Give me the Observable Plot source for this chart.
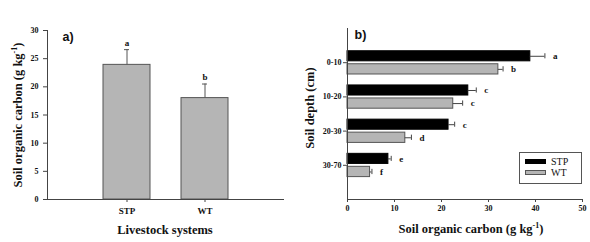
<!DOCTYPE html>
<html><head><meta charset="utf-8">
<script src="https://cdn.jsdelivr.net/npm/d3@7"></script>
<script src="https://cdn.jsdelivr.net/npm/@observablehq/plot@0.6"></script>
<style>
body{margin:0;background:#fff;}
#wrap{position:relative;width:590px;height:242px;overflow:hidden;font-family:"Liberation Serif","Times New Roman",serif;color:#111;}
#wrap svg{position:absolute;top:0;}
.title{position:absolute;font-weight:bold;font-size:12.5px;white-space:nowrap;line-height:1;transform:translate(-50%,-50%);}
.title.rot{transform:translate(-50%,-50%) rotate(-90deg);}
.title sup{font-size:8px;vertical-align:5px;line-height:0;}
#legend{position:absolute;left:519px;top:152px;width:61px;height:30px;border:1px solid #555;background:#fff;}
.lg{position:absolute;left:5px;width:21px;height:5px;box-sizing:border-box;}
.lgt{position:absolute;left:31px;font-size:10px;line-height:1;}
</style></head><body><div id="wrap"></div>
<script>
// Panel a) data
const systems = ["STP", "WT"];
const systemSoc = [23.9, 18.0];
const systemSocUpper = [26.6, 20.5];
const systemLetters = ["a", "b"];
const yTicksA = [0, 5, 10, 15, 20, 25, 30];

// Panel b) data
const depths = ["0-10", "10-20", "20-30", "30-70"];
const seriesNames = ["STP", "WT"];
const stpSoc = [38.9, 25.7, 21.5, 8.7];
const stpUpper = [42.0, 27.4, 22.8, 9.3];
const stpLetters = ["a", "c", "c", "e"];
const wtSoc = [32.1, 22.5, 12.3, 4.8];
const wtUpper = [33.1, 24.5, 13.6, 5.2];
const wtLetters = ["b", "c", "d", "f"];
const xTicksB = [0, 10, 20, 30, 40, 50];

const seriesFill = {STP: "#000", WT: "#b5b5b5"};
const seriesStroke = {STP: "#000", WT: "#555"};
const barBand = {STP: [-0.335, -0.04], WT: [0.045, 0.345]};
const axisColor = "#444";

const wrap = document.getElementById("wrap");

const dataA = systems.map((s, i) => ({system: s, soc: systemSoc[i], hi: systemSocUpper[i], letter: systemLetters[i]}));

const plotA = Plot.plot({
  width: 295, height: 242,
  marginLeft: 47, marginRight: 12, marginTop: 30, marginBottom: 43,
  style: {fontFamily: "Liberation Serif, Times New Roman, serif", background: "transparent", color: "#111"},
  x: {domain: systems, paddingInner: 0.4, paddingOuter: 0.7, label: null},
  y: {domain: [0, 30], label: null},
  marks: [
    Plot.barY(dataA, {x: "system", y: "soc", fill: "#b5b5b5", stroke: "#555", strokeWidth: 1}),
    Plot.ruleX(dataA, {x: "system", y1: "soc", y2: "hi", stroke: "#555"}),
    Plot.tickY(dataA, {x: "system", y: "hi", stroke: "#555", insetLeft: 21, insetRight: 21}),
    Plot.text(dataA, {x: "system", y: "hi", text: "letter", dy: -7, fontWeight: "bold", fontSize: 9}),
    Plot.axisY({ticks: yTicksA, tickSize: 4, tickPadding: 5, fontWeight: "bold", fontSize: 8, label: null, stroke: axisColor}),
    Plot.axisX({tickSize: 3, tickPadding: 5, fontWeight: "bold", fontSize: 9, label: null, stroke: axisColor}),
    Plot.frame({anchor: "left", stroke: axisColor}),
    Plot.frame({anchor: "bottom", stroke: axisColor}),
    Plot.text(["a)"], {frameAnchor: "top-left", dx: 15, dy: 2, lineAnchor: "top", textAnchor: "start", fontFamily: "Liberation Sans, Arial, sans-serif", fontWeight: "bold", fontSize: 12.5, fill: "#111"})
  ]
});
plotA.style.left = "0px";
wrap.appendChild(plotA);

const dataB = [];
depths.forEach((d, i) => {
  const vals = {STP: [stpSoc[i], stpUpper[i], stpLetters[i]], WT: [wtSoc[i], wtUpper[i], wtLetters[i]]};
  seriesNames.forEach(s => {
    const [soc, hi, letter] = vals[s];
    const y1 = i + 1 + barBand[s][0], y2 = i + 1 + barBand[s][1];
    dataB.push({depth: d, series: s, soc, hi, letter, y1, y2, yc: (y1 + y2) / 2});
  });
});

const plotB = Plot.plot({
  width: 295, height: 242,
  marginLeft: 52, marginRight: 8, marginTop: 28, marginBottom: 43,
  style: {fontFamily: "Liberation Serif, Times New Roman, serif", background: "transparent", color: "#111"},
  x: {domain: [0, 50], label: null},
  y: {domain: [0, depths.length + 1], reverse: true, label: null},
  marks: [
    Plot.rectX(dataB, {x1: () => 0, x2: "soc", y1: "y1", y2: "y2", fill: d => seriesFill[d.series], stroke: d => seriesStroke[d.series], strokeWidth: 1}),
    Plot.ruleY(dataB, {y: "yc", x1: "soc", x2: "hi", stroke: "#444"}),
    Plot.ruleX(dataB, {x: "hi", y1: "y1", y2: "y2", insetTop: 2.5, insetBottom: 2.5, stroke: "#444"}),
    Plot.text(dataB, {x: "hi", y: "yc", text: "letter", textAnchor: "start", dx: 8, fontWeight: "bold", fontSize: 9}),
    Plot.axisX({ticks: xTicksB, tickSize: 3, tickPadding: 3, fontWeight: "bold", fontSize: 8, label: null, stroke: axisColor}),
    Plot.axisY({ticks: depths.map((d, i) => i + 1), tickFormat: v => depths[v - 1], tickSize: 4, tickPadding: 2, fontWeight: "bold", fontSize: 8, label: null, stroke: axisColor}),
    Plot.frame({anchor: "left", stroke: axisColor}),
    Plot.frame({anchor: "bottom", stroke: axisColor}),
    Plot.text(["b)"], {frameAnchor: "top-left", dx: 7, dy: 2, lineAnchor: "top", textAnchor: "start", fontFamily: "Liberation Sans, Arial, sans-serif", fontWeight: "bold", fontSize: 12.5, fill: "#111"})
  ]
});
plotB.style.left = "295px";
wrap.appendChild(plotB);

function addTitle(html, x, y, rot) {
  const el = document.createElement("div");
  el.className = "title" + (rot ? " rot" : "");
  el.innerHTML = html;
  el.style.left = x + "px";
  el.style.top = y + "px";
  wrap.appendChild(el);
}
addTitle("Livestock systems", 165, 230, false);
addTitle("Soil organic carbon (g kg<sup>-1</sup>)", 18, 115, true);
addTitle("Soil organic carbon (g kg<sup>-1</sup>)", 471, 229, false);
addTitle("Soil depth (cm)", 309.5, 107.5, true);

const legend = document.createElement("div");
legend.id = "legend";
seriesNames.forEach((s, i) => {
  const sw = document.createElement("div");
  sw.className = "lg";
  sw.style.top = (6 + i * 11) + "px";
  sw.style.background = seriesFill[s];
  sw.style.border = "1px solid " + seriesStroke[s];
  legend.appendChild(sw);
  const t = document.createElement("div");
  t.className = "lgt";
  t.style.top = (4 + i * 11) + "px";
  t.textContent = s;
  legend.appendChild(t);
});
wrap.appendChild(legend);
</script>
</body></html>
